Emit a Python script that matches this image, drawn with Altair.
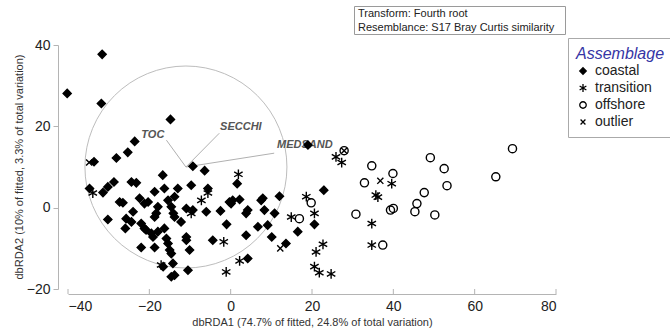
import altair as alt
import pandas as pd

# ---------------- data ----------------
coastal_x = [-40.2, -31.6, -31.8, -14.8, -23.6, -25.3, -28.1, -33.6, -9.3, -6.4, -16.7, 1.6, -9.7, -16.3,
             -13.0, -5.6, -18.7, -34.7, -31.4, -30.2, -28.7, -24.4, -23.2, -27.3, -26.5, -22.4, -21.2, -20.3,
             -15.4, -13.8, -17.9, -14.6, -14.1, -13.8, -10.9, -9.3, -6.0, -2.5, -0.3, 0.1, 0.5, 2.2, 3.8, 4.2,
             7.5, 7.9, 8.3, 10.8, 12.0, 22.9, 20.6, 16.5, 13.6, 10.1, 9.1, 6.7, 3.8, 4.2, -1.0, -4.4, -12.2,
             -10.9, -10.9, -10.1, -10.5, -14.2, -14.6, -13.8, -16.6, -15.8, -16.3, -15.4, -15.0, -14.6, -22.0,
             -20.8, -22.0, -19.1, -18.7, -17.9, -18.3, -18.7, -24.0, -25.7, -25.9, -30.2, -24.4, 19.0, -19.5,
             -21.2]
coastal_y = [28.1, 37.7, 25.6, 21.7, 16.3, 13.6, 12.2, 11.3, 10.2, 9.1, 8.0, 5.9, 5.5, 4.7,
             4.7, 4.7, 3.9, 4.7, 3.7, 5.1, 6.3, 6.3, 6.1, 1.4, 1.2, 2.3, 1.0, 1.4,
             1.8, 2.7, 0.2, 0.2, -1.4, -2.3, -0.2, -0.6, -1.0, -0.8, 1.4, 1.0, 1.8, 2.0, -1.4, -0.6,
             1.8, 2.3, -0.6, -1.4, 2.8, 4.3, -4.1, -5.9, -8.8, -7.2, -4.3, -4.7, -6.8, -12.5, -4.1, -8.0, -3.5,
             -7.2, -8.0, -10.4, -15.4, -13.7, -17.0, -16.6, -14.5, -7.6, -5.1, -8.8, -10.4, -11.3, -3.9,
             -5.5, -9.8, -7.2, -9.8, -5.9, -1.4, -2.3, -1.0, -2.7, -5.1, -2.9, -3.5, 15.4, -6.3,
             -5.1]

transition_x = [-33.9, -5.6, -7.2, -9.7, 1.9, -1.7, -1.1, 2.2, -17.1, 14.9, 18.6, 20.6, 21.0, 22.7,
                20.6, 21.8, 24.7, 25.9, 27.3, 39.6, 35.7, 36.2, 34.7, 34.7]
transition_y = [3.6, 3.6, 1.8, -1.4, 8.2, -8.4, -15.8, -13.1, -14.1, -2.3, 2.7, -1.4, -10.9, -9.0,
                -14.5, -16.0, -16.3, 12.5, 11.1, 5.9, 3.1, 2.6, -3.9, -9.2]

offshore_x = [19.8, 16.9, 27.9, 34.7, 39.9, 32.9, 49.1, 52.5, 53.2, 47.6, 45.8, 45.3, 50.2, 39.3,
              40.0, 30.8, 37.4, 65.2, 69.3]
offshore_y = [1.2, -2.7, 14.0, 10.3, 8.4, 6.1, 12.3, 9.6, 5.4, 3.7, 1.0, -1.0, -1.8, -0.6,
              -0.2, -1.6, -9.2, 7.6, 14.5]

outlier_x = [-34.8, 12.2, 36.8, 27.9]
outlier_y = [11.1, -10.0, 6.6, 14.0]

groups = ["coastal", "transition", "offshore", "outlier"]
x_ticks = [-40, -20, 0, 20, 40, 60, 80]
y_ticks = [-20, 0, 20, 40]
x_title = "dbRDA1 (74.7% of fitted, 24.8% of total variation)"
y_title = "dbRDA2 (10% of fitted, 3.3% of total variation)"
note_lines = ["Transform: Fourth root", "Resemblance: S17 Bray Curtis similarity"]

# environmental vectors (dbRDA)
vec_names = ["TOC", "SECCHI", "MEDSAND"]
vec_x0 = [-11.0, -11.0, -11.0]
vec_y0 = [10.0, 10.0, 10.0]
vec_x1 = [-15.8, -2.8, 10.7]
vec_y1 = [16.6, 18.3, 13.4]
lab_x = [-16.3, -2.6, 11.4]
lab_y = [17.8, 19.8, 15.4]
lab_align = ["right", "left", "left"]
circle_x = [-11.0]
circle_y = [10.0]

rows = []
for g, xs, ys in [("coastal", coastal_x, coastal_y), ("transition", transition_x, transition_y),
                  ("offshore", offshore_x, offshore_y), ("outlier", outlier_x, outlier_y)]:
    for a, b in zip(xs, ys):
        rows.append({"x": a, "y": b, "group": g})
df = pd.DataFrame(rows)

vec_df = pd.DataFrame({"name": vec_names, "x0": vec_x0, "y0": vec_y0, "x1": vec_x1, "y1": vec_y1,
                       "lx": lab_x, "ly": lab_y, "al": lab_align})
circ_df = pd.DataFrame({"x": circle_x, "y": circle_y})
tick_df = pd.DataFrame({"t": x_ticks})

W, H = 488, 244
FONT = "Liberation Sans"
GRAY = "#b4b4b4"

xscale = alt.Scale(domain=[-40, 80], nice=False, zero=False)
yscale = alt.Scale(domain=[-20, 40], nice=False, zero=False)

shape_range = [
    "M0,-1L1,0L0,1L-1,0Z",
    "M0,-1.2L0,1.2M-1.04,-0.6L1.04,0.6M-1.04,0.6L1.04,-0.6",
    "circle",
    "M-0.75,-0.75L0.75,0.75M-0.75,0.75L0.75,-0.75",
]
fill_range = ["black", "transparent", "transparent", "transparent"]
stroke_range = ["black", "black", "black", "black"]

legend = alt.Legend(
    title="Assemblage", orient="none", legendX=500, legendY=-7,
    strokeColor="#aaaaaa", fillColor="white", padding=8,
    titleFont=FONT, titleFontStyle="italic", titleFontWeight="normal", titleFontSize=16,
    titleColor="#3535a5", titlePadding=2,
    labelFont=FONT, labelFontSize=14, labelColor="#222222", labelOffset=5,
    symbolSize=42, symbolStrokeWidth=1.3, rowPadding=3,
)

points = alt.Chart(df).mark_point(filled=False, strokeWidth=1.4, opacity=1, size=66).encode(
    x=alt.X("x:Q", scale=xscale, axis=alt.Axis(
        values=x_ticks, title=x_title, offset=5,
        ticks=False, labelPadding=5, grid=False, domainColor=GRAY,
        labelFont=FONT, labelFontSize=14, labelColor="#222222",
        titleFont=FONT, titleFontSize=11, titleFontWeight="normal", titleColor="#333333", titlePadding=3)),
    y=alt.Y("y:Q", scale=yscale, axis=alt.Axis(
        values=y_ticks, title=None, offset=10,
        tickSize=5, tickColor=GRAY, labelPadding=3, grid=False, domainColor=GRAY,
        labelFont=FONT, labelFontSize=14, labelColor="#222222")),
    shape=alt.Shape("group:N", scale=alt.Scale(domain=groups, range=shape_range), legend=legend),
    fill=alt.Fill("group:N", scale=alt.Scale(domain=groups, range=fill_range), legend=legend),
    stroke=alt.Stroke("group:N", scale=alt.Scale(domain=groups, range=stroke_range), legend=legend),
)

one = pd.DataFrame({"a": [0]})

y_title_mark = alt.Chart(one).mark_text(
    angle=270, align="center", baseline="middle", font=FONT, fontSize=11, color="#333333").encode(
    x=alt.value(-48), y=alt.value(H / 2), text=alt.value(y_title))

circle = alt.Chart(circ_df).mark_point(shape="circle", filled=False, stroke="#bdbdbd", strokeWidth=1,
                                       size=40804, opacity=1).encode(
    x=alt.X("x:Q", scale=xscale), y=alt.Y("y:Q", scale=yscale))

vectors = alt.Chart(vec_df).mark_rule(color="#b0b0b0", strokeWidth=1).encode(
    x=alt.X("x0:Q", scale=xscale), y=alt.Y("y0:Q", scale=yscale), x2="x1:Q", y2="y1:Q")

vec_lab_r = alt.Chart(vec_df[vec_df.al == "right"]).mark_text(
    align="right", baseline="middle", font=FONT, fontSize=11, fontWeight="bold", fontStyle="italic",
    color="#555555").encode(x=alt.X("lx:Q", scale=xscale), y=alt.Y("ly:Q", scale=yscale), text="name:N")
vec_lab_l = alt.Chart(vec_df[vec_df.al == "left"]).mark_text(
    align="left", baseline="middle", font=FONT, fontSize=11, fontWeight="bold", fontStyle="italic",
    color="#555555").encode(x=alt.X("lx:Q", scale=xscale), y=alt.Y("ly:Q", scale=yscale), text="name:N")

xticks = alt.Chart(tick_df).mark_rule(color=GRAY, strokeWidth=1).encode(
    x=alt.X("t:Q", scale=xscale), y=alt.value(H), y2=alt.value(H + 5))

note_box = alt.Chart(one).mark_rect(fill="white", stroke="#9a9a9a", strokeWidth=1).encode(
    x=alt.value(286.5), x2=alt.value(497.5), y=alt.value(-38.5), y2=alt.value(-10.5))
note_text = alt.Chart(one).mark_text(
    align="left", baseline="middle", font=FONT, fontSize=11, color="#222222", lineHeight=14).encode(
    x=alt.value(290), y=alt.value(-31.5), text=alt.value(note_lines))

chart = alt.layer(circle, vectors, vec_lab_r, vec_lab_l, xticks, points, note_box, note_text,
                  y_title_mark).properties(
    width=W, height=H,
    autosize=alt.AutoSizeParams(type="none"),
    padding={"left": 68, "top": 45, "right": 114, "bottom": 42},
    background="white",
).configure_view(stroke=None)

chart.save("out.html", embed_options={"renderer": "svg", "actions": False})
